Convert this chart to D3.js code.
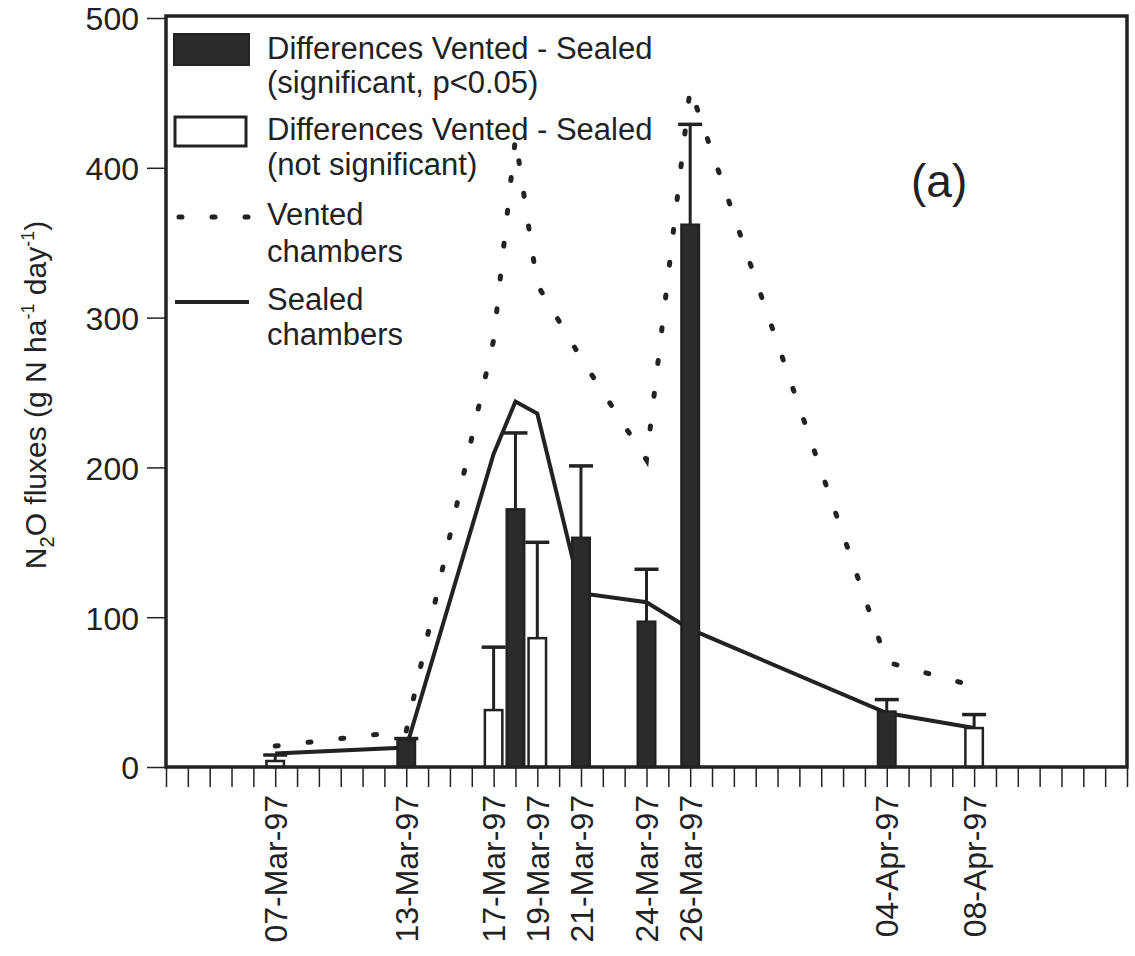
<!DOCTYPE html>
<html>
<head>
<meta charset="utf-8">
<script src="https://cdn.jsdelivr.net/npm/d3@7"></script>
<style>
  body { margin: 0; background: #fff; }
  text { font-family: "Liberation Sans", Arial, sans-serif; fill: #222; }
</style>
</head>
<body>
<svg id="chart" width="1135" height="956"></svg>
<script>
/*
 * Data
 */
var BAR_DATES = ['07-Mar-97', '13-Mar-97', '17-Mar-97', '18-Mar-97', '19-Mar-97',
                 '21-Mar-97', '24-Mar-97', '26-Mar-97', '04-Apr-97', '08-Apr-97'],
    BAR_VALUES = [4, 18, 38, 172, 86, 153, 97, 362, 37, 26],
    BAR_ERROR_TOP = [8, 19, 80, 223, 150, 201, 132, 429, 45, 35],
    BAR_SIGNIFICANT = [false, true, false, true, false, true, true, true, true, false];

var LINE_DATES = ['07-Mar-97', '13-Mar-97', '17-Mar-97', '18-Mar-97', '19-Mar-97',
                  '21-Mar-97', '24-Mar-97', '26-Mar-97', '04-Apr-97', '08-Apr-97'],
    SEALED_VALUES = [9, 13, 209, 244, 236, 116, 110, 92, 36, 26],
    VENTED_VALUES = [14, 24, 285, 420, 322, 273, 205, 453, 70, 54];

var X_LABEL_DATES = ['07-Mar-97', '13-Mar-97', '17-Mar-97', '19-Mar-97', '21-Mar-97',
                     '24-Mar-97', '26-Mar-97', '04-Apr-97', '08-Apr-97'],
    X_DOMAIN = ['02-Mar-97', '15-Apr-97'],
    Y_TICKS = [0, 100, 200, 300, 400, 500];

/*
 * Style
 */
var LEFT = 166, RIGHT = 1127, TOP = 18, BOTTOM = 767,
    INK = '#222',
    BAR_FILL = '#2b2b2b',
    FONT_SIZE = 31,
    DOTS = '3 30';

var parseDate = d3.timeParse('%d-%b-%y'),
    formatDate = d3.timeFormat('%d-%b-%y');

function main() {
    var svg = d3.select('#chart');

    var x = d3.scaleTime()
        .domain(X_DOMAIN.map(parseDate))
        .range([LEFT, RIGHT]);

    var y = d3.scaleLinear()
        .domain([0, 500])
        .range([BOTTOM, TOP]);

    var dayPx = x(parseDate('03-Mar-97')) - x(parseDate('02-Mar-97'));
    var barW = dayPx * 0.8,
        capW = dayPx * 1.1;

    /**
     * Axes
     */
    var yAxis = svg.append('g')
        .attr('transform', 'translate(' + LEFT + ',0)')
        .call(d3.axisLeft(y).tickValues(Y_TICKS).tickSize(19).tickPadding(8));
    yAxis.select('.domain').remove();
    yAxis.selectAll('line').attr('stroke', INK).attr('stroke-width', 1.5);
    yAxis.selectAll('text')
        .attr('font-size', 32)
        .attr('dy', '0.37em')
        .attr('font-family', '"Liberation Sans", Arial, sans-serif')
        .attr('fill', INK);

    var xTicks = svg.append('g')
        .attr('transform', 'translate(0,' + BOTTOM + ')')
        .call(d3.axisBottom(x).ticks(d3.timeDay.every(1)).tickSize(20).tickFormat(''));
    xTicks.select('.domain').remove();
    xTicks.selectAll('line').attr('stroke', INK).attr('stroke-width', 1.5);

    var xLabels = svg.append('g')
        .attr('transform', 'translate(0,' + BOTTOM + ')')
        .call(d3.axisBottom(x).tickValues(X_LABEL_DATES.map(parseDate))
            .tickSize(0).tickFormat(formatDate));
    xLabels.select('.domain').remove();
    xLabels.selectAll('text')
        .attr('font-size', FONT_SIZE + 1)
        .attr('font-family', '"Liberation Sans", Arial, sans-serif')
        .attr('fill', INK)
        .attr('text-anchor', 'end')
        .attr('transform', 'rotate(-90)')
        .attr('x', -28)
        .attr('y', 0)
        .attr('dy', '0.35em');

    /**
     * Lines
     */
    var lineData = LINE_DATES.map(function (d, i) {
        return {date: parseDate(d), sealed: SEALED_VALUES[i], vented: VENTED_VALUES[i]};
    });

    var sealedLine = d3.line()
        .x(function (d) { return x(d.date); })
        .y(function (d) { return y(d.sealed); });
    var ventedLine = d3.line()
        .x(function (d) { return x(d.date); })
        .y(function (d) { return y(d.vented); });

    svg.append('path')
        .attr('d', ventedLine(lineData))
        .attr('fill', 'none')
        .attr('stroke', INK)
        .attr('stroke-width', 5)
        .attr('stroke-linecap', 'round')
        .attr('stroke-dasharray', DOTS);

    svg.append('path')
        .attr('d', sealedLine(lineData))
        .attr('fill', 'none')
        .attr('stroke', INK)
        .attr('stroke-width', 4);

    /**
     * Bars with upper error bars
     */
    var barData = BAR_DATES.map(function (d, i) {
        return {date: parseDate(d), value: BAR_VALUES[i], err: BAR_ERROR_TOP[i], sig: BAR_SIGNIFICANT[i]};
    });

    var bars = svg.append('g').selectAll('g')
        .data(barData)
        .enter()
        .append('g');

    bars.append('line')
        .attr('x1', function (d) { return x(d.date); })
        .attr('x2', function (d) { return x(d.date); })
        .attr('y1', function (d) { return y(d.value); })
        .attr('y2', function (d) { return y(d.err); })
        .attr('stroke', INK)
        .attr('stroke-width', 3);

    bars.append('line')
        .attr('x1', function (d) { return x(d.date) - capW / 2; })
        .attr('x2', function (d) { return x(d.date) + capW / 2; })
        .attr('y1', function (d) { return y(d.err); })
        .attr('y2', function (d) { return y(d.err); })
        .attr('stroke', INK)
        .attr('stroke-width', 3.5);

    bars.append('rect')
        .attr('x', function (d) { return x(d.date) - barW / 2; })
        .attr('y', function (d) { return y(d.value); })
        .attr('width', barW)
        .attr('height', function (d) { return y(0) - y(d.value); })
        .attr('fill', function (d) { return d.sig ? BAR_FILL : '#fff'; })
        .attr('stroke', INK)
        .attr('stroke-width', 2.5);

    /**
     * Frame
     */
    svg.append('rect')
        .attr('x', LEFT)
        .attr('y', TOP - 2)
        .attr('width', RIGHT - LEFT)
        .attr('height', BOTTOM - TOP + 2)
        .attr('fill', 'none')
        .attr('stroke', INK)
        .attr('stroke-width', 3.5);

    /**
     * Y title
     */
    var title = svg.append('text')
        .attr('transform', 'translate(46,395) rotate(-90)')
        .attr('text-anchor', 'middle')
        .attr('font-size', 30);
    title.append('tspan').text('N');
    title.append('tspan').text('2').attr('font-size', 20).attr('dy', 8);
    title.append('tspan').text('O fluxes (g N ha').attr('dy', -8);
    title.append('tspan').text('-1').attr('font-size', 18).attr('dy', -12);
    title.append('tspan').text(' day').attr('dy', 12);
    title.append('tspan').text('-1').attr('font-size', 18).attr('dy', -12);
    title.append('tspan').text(')').attr('dy', 12);

    svg.append('text')
        .attr('x', 911)
        .attr('y', 197)
        .attr('font-size', 46)
        .text('(a)');

    drawLegend(svg);
}

function drawLegend(svg) {
    var legend = svg.append('g').attr('font-size', FONT_SIZE);

    legend.append('rect')
        .attr('x', 174).attr('y', 34).attr('width', 75).attr('height', 31)
        .attr('fill', BAR_FILL).attr('stroke', INK).attr('stroke-width', 2);
    legend.append('rect')
        .attr('x', 175).attr('y', 117).attr('width', 71).attr('height', 29)
        .attr('fill', '#fff').attr('stroke', INK).attr('stroke-width', 3);
    legend.append('path')
        .attr('d', 'M179,217H250')
        .attr('stroke', INK).attr('stroke-width', 5)
        .attr('stroke-linecap', 'round').attr('stroke-dasharray', DOTS);
    legend.append('path')
        .attr('d', 'M175,302H249')
        .attr('stroke', INK).attr('stroke-width', 4);

    var lines = [
        ['Differences Vented - Sealed', 59],
        ['(significant, p<0.05)', 93],
        ['Differences Vented - Sealed', 140],
        ['(not significant)', 175],
        ['Vented', 225],
        ['chambers', 262],
        ['Sealed', 310],
        ['chambers', 345]
    ];
    legend.selectAll('text.leg')
        .data(lines)
        .enter()
        .append('text')
        .attr('class', 'leg')
        .attr('x', 267)
        .attr('y', function (d) { return d[1]; })
        .text(function (d) { return d[0]; });
}

(function () {
    main();
})();
</script>
</body>
</html>
